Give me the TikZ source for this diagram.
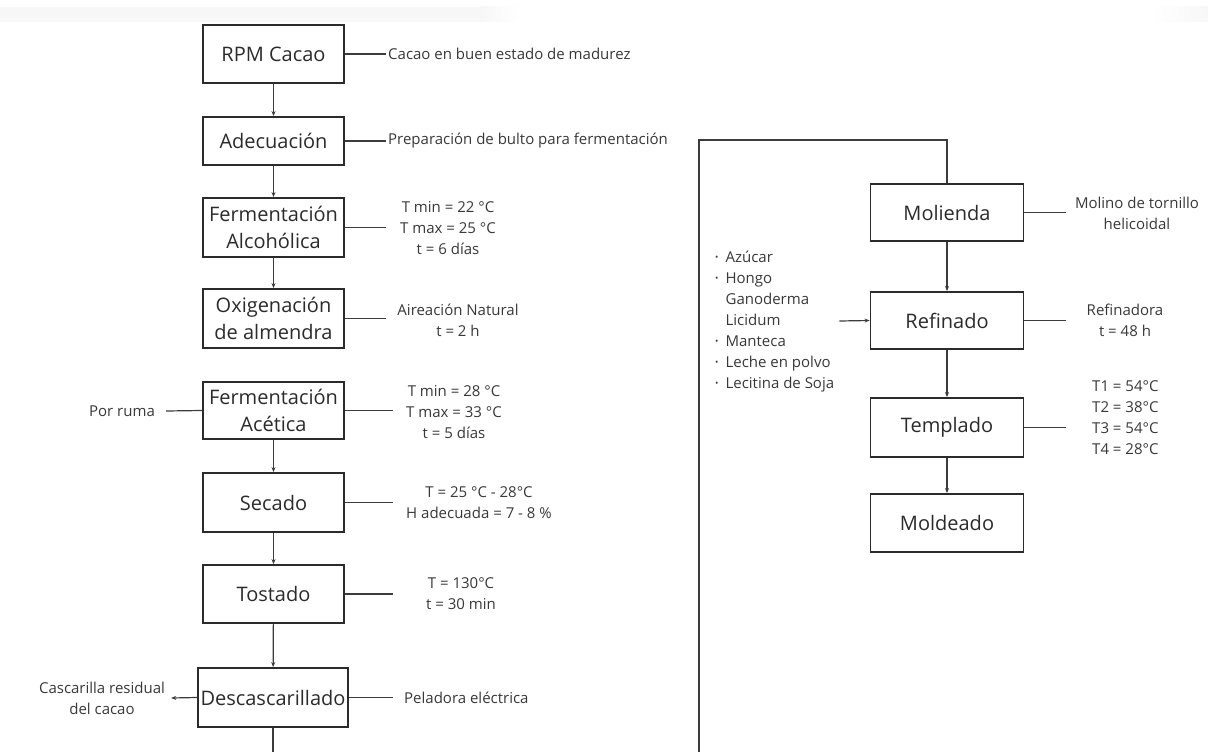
\documentclass[tikz,border=0pt]{standalone}
\usepackage{fontspec}
\setmainfont{Open Sans}
\usetikzlibrary{arrows.meta}
\definecolor{ink}{HTML}{2B2B2B}
\definecolor{anntext}{HTML}{383838}
\definecolor{wirec}{HTML}{3C3C3C}
\begin{document}
\begin{tikzpicture}[x=1pt,y=-1pt,
  proc/.style={draw=ink,line width=1.8pt,minimum width=141pt,inner sep=0pt,align=center,
    font=\fontsize{20}{27}\selectfont,text=ink},
  ann/.style={align=center,font=\fontsize{15}{21}\selectfont,text=anntext,inner sep=0pt},
  wire/.style={draw=wirec,line width=1.2pt},
  arr/.style={wire,-{Stealth[length=5pt,width=4pt]}}]
\useasboundingbox (0,0) rectangle (1208,752);
% faint top band
\fill[black!3] (0,7) rectangle (480,22);
\shade[left color=black!3,right color=white] (480,7) rectangle (520,22);
\shade[left color=white,right color=black!3] (1150,7) rectangle (1208,22);

% left column
\node[proc,minimum height=58pt] (rpm) at (273.5,54) {RPM Cacao};
\node[proc,minimum height=48pt] (ade) at (273.5,141) {Adecuación};
\node[proc,minimum height=59pt] (fal) at (273.5,227.5) {Fermentación\\Alcohólica};
\node[proc,minimum height=59pt] (oxi) at (273.5,318.5) {Oxigenación\\de almendra};
\node[proc,minimum height=57pt] (fac) at (273.5,410.5) {Fermentación\\Acética};
\node[proc,minimum height=59pt] (sec) at (273.5,502.5) {Secado};
\node[proc,minimum height=58pt] (tos) at (273.5,594) {Tostado};
\node[proc,minimum height=59pt,minimum width=150pt] (des) at (273,697.5) {Descascarillado};

\draw[arr] (rpm) -- (ade);
\draw[arr] (ade) -- (fal);
\draw[arr] (fal) -- (oxi);
\draw[arr] (fac) -- (sec);
\draw[arr] (sec) -- (tos);
\draw[arr] (tos) -- (des);
\coordinate (desout) at (273,752);
\draw[wire] (des.south) -- (desout);

% left column annotations
\node[ann,anchor=west] (rpmt) at (388,54) {Cacao en buen estado de madurez};
\draw[wire] (rpm.east) -- ([xshift=-2pt]rpmt.west);
\node[ann,anchor=west] (adet) at (388,141) {Preparación de bulto para fermentación};
\draw[wire] (ade.east) -- ([xshift=-2pt]adet.west);

\node[ann] (falt) at (448,228) {T min = 22 °C\\T max = 25 °C\\t = 6 días};
\coordinate (falx) at (386,227.5);
\draw[wire] (fal.east) -- (falx);

\node[ann] (oxit) at (458,320) {Aireación Natural\\t = 2 h};
\coordinate (oxix) at (386,318.5);
\draw[wire] (oxi.east) -- (oxix);

\node[ann] (fact) at (454,412) {T min = 28 °C\\T max = 33 °C\\t = 5 días};
\coordinate (facx) at (393,410.5);
\draw[wire] (fac.east) -- (facx);
\node[ann] (porr) at (122,411) {Por ruma};
\draw[wire] ([xshift=11pt]porr.east) -- (fac.west);

\node[ann] (sect) at (479,502.5) {T = 25 °C - 28°C\\H adecuada = 7 - 8 \%};
\coordinate (secx) at (393,502.5);
\draw[wire] (sec.east) -- (secx);

\node[ann] (tost) at (461,594) {T = 130°C\\t = 30 min};
\coordinate (tosx) at (393,594);
\draw[wire] (tos.east) -- (tosx);

\node[ann,anchor=west] (dest) at (404,697.5) {Peladora eléctrica};
\draw[wire] (des.east) -- ([xshift=-11pt]dest.west);
\node[ann] (cas) at (102,698) {Cascarilla residual\\del cacao};
\draw[arr] (des.west) -- ([xshift=6pt]cas.east);

% right column
\node[proc,minimum width=153pt,minimum height=57pt] (mol) at (947,212.5) {Molienda};
\node[proc,minimum width=153pt,minimum height=57pt] (ref) at (947,320.5) {Refinado};
\node[proc,minimum width=153pt,minimum height=59pt] (tem) at (947,427.5) {Templado};
\node[proc,minimum width=153pt,minimum height=58pt] (mold) at (947,523) {Moldeado};
\draw[arr] (mol) -- (ref);
\draw[arr] (ref) -- (tem);
\draw[arr] (tem) -- (mold);

% link from left column bottom to Molienda
\coordinate (linkbot) at (699,752);
\coordinate (linktop) at (699,140);
\draw[wire] (linkbot) -- (linktop) -| (mol.north);

% right annotations
\node[ann] (molt) at (1137,213.5) {Molino de tornillo\\helicoidal};
\coordinate (molx) at (1066,212.5);
\draw[wire] (mol.east) -- (molx);
\node[ann] (reft) at (1125,320) {Refinadora\\t = 48 h};
\coordinate (refx) at (1066,320.5);
\draw[wire] (ref.east) -- (refx);
\node[ann,align=left,anchor=west] (temt) at (1092,417.5) {T1 = 54°C\\T2 = 38°C\\T3 = 54°C\\T4 = 28°C};
\coordinate (temx) at (1066,427.5);
\draw[wire] (tem.east) -- (temx);

% ingredients list
\newcommand{\blt}{\raisebox{1.5pt}{\fontsize{9}{9}\selectfont •}}
\node[ann,anchor=west,align=left] (ing) at (715,321) {%
  \begin{tabular}{@{}l@{\hspace{7pt}}l@{}}
  \blt & Azúcar\\
  \blt & Hongo\\
       & Ganoderma\\
       & Licidum\\
  \blt & Manteca\\
  \blt & Leche en polvo\\
  \blt & Lecitina de Soja
  \end{tabular}};
\draw[arr] ([xshift=5pt]ing.east) -- (ref.west);
\end{tikzpicture}
\end{document}
